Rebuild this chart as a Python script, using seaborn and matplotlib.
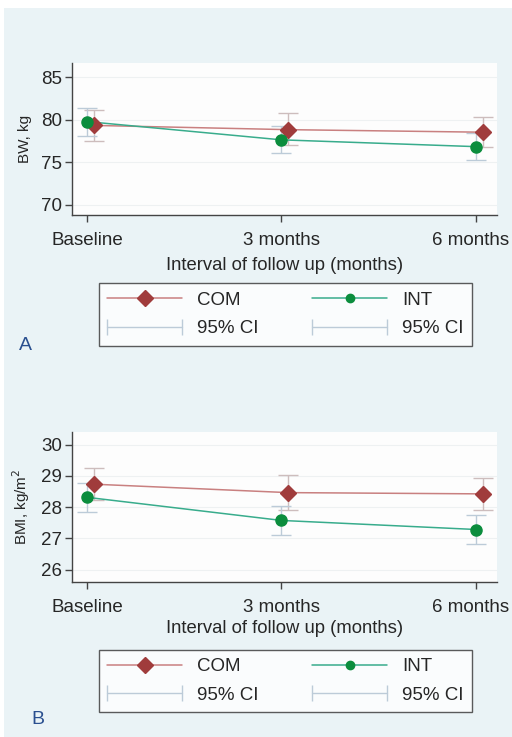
import numpy as np
import pandas as pd
import matplotlib
matplotlib.use('Agg')
import matplotlib.pyplot as plt
import matplotlib.transforms as mtransforms
import seaborn as sns
from matplotlib.lines import Line2D
from matplotlib.legend_handler import HandlerLine2D
from matplotlib.patches import Rectangle

# data
visits = ['Baseline', '3 months', '6 months']
bw_com = [79.35, 78.85, 78.55]
bw_com_lo = [77.5, 77.0, 76.8]
bw_com_hi = [81.2, 80.8, 80.3]
bw_int = [79.8, 77.65, 76.85]
bw_int_lo = [78.15, 76.05, 75.3]
bw_int_hi = [81.4, 79.3, 78.4]

bmi_com = [28.73, 28.46, 28.42]
bmi_com_lo = [28.21, 27.92, 27.9]
bmi_com_hi = [29.25, 29.02, 28.94]
bmi_int = [28.31, 27.57, 27.28]
bmi_int_lo = [27.85, 27.1, 26.82]
bmi_int_hi = [28.77, 28.03, 27.75]

COM_LINE = '#c98080'
COM_MARK = '#a03c3c'
INT_LINE = '#38ac8c'
INT_MARK = '#0b8d3d'
COM_CI = '#cdbdbd'
INT_CI = '#bccbd8'
BG = '#eaf3f6'

sns.set_style('white')
plt.rcParams['font.family'] = ['Liberation Sans', 'DejaVu Sans']

fig = plt.figure(figsize=(5.12, 7.37), dpi=100)
fig.patch.set_facecolor('white')
fig.patches.append(Rectangle((4 / 512, 0), 1, 1 - 8 / 737, transform=fig.transFigure,
                             facecolor=BG, edgecolor='none', zorder=-10))


def panel(rect, com, com_lo, com_hi, intv, int_lo, int_hi, ylim, yticks, ylabel, xlpad):
    ax = fig.add_axes(rect)
    ax.set_facecolor('#fdfdfd')
    x = np.arange(len(visits))
    off = 0.035
    df = pd.DataFrame({'x': np.concatenate([x + off, x]),
                       'y': com + intv,
                       'group': ['COM'] * 3 + ['INT'] * 3})
    ax.errorbar(x + off, com, yerr=[np.array(com) - np.array(com_lo), np.array(com_hi) - np.array(com)],
                fmt='none', ecolor=COM_CI, elinewidth=1.0, capsize=7.5, capthick=1.0, zorder=2)
    ax.errorbar(x, intv, yerr=[np.array(intv) - np.array(int_lo), np.array(int_hi) - np.array(intv)],
                fmt='none', ecolor=INT_CI, elinewidth=1.0, capsize=7.5, capthick=1.0, zorder=2)
    sns.lineplot(data=df, x='x', y='y', hue='group', palette={'COM': COM_LINE, 'INT': INT_LINE},
                 linewidth=1.1, legend=False, ax=ax, zorder=3)
    ax.plot(x + off, com, linestyle='none', marker='D', markersize=8.5, color=COM_MARK, zorder=4)
    ax.plot(x, intv, linestyle='none', marker='o', markersize=8, color=INT_MARK, zorder=5)
    ax.set_xlim(-0.077, 2.108)
    ax.set_ylim(*ylim)
    ax.set_xticks(x)
    ax.set_xticklabels(visits, fontsize=13.5)
    ax.set_yticks(yticks)
    ax.set_yticklabels([str(t) for t in yticks], fontsize=13.5)
    ax.tick_params(axis='x', direction='out', length=5, width=1, color='#444444', pad=7,
                   bottom=True)
    ax.tick_params(axis='y', direction='out', length=5, width=1, color='#444444', pad=2,
                   left=True)
    # last label sits a little left of its tick, as in the reference
    last = ax.get_xticklabels()[-1]
    last.set_transform(last.get_transform() +
                       mtransforms.ScaledTranslation(-5 / 100, 0, fig.dpi_scale_trans))
    ax.set_xlabel('Interval of follow up (months)', fontsize=13.3, labelpad=xlpad)
    ax.set_ylabel(ylabel, fontsize=11, labelpad=6.5)
    ax.yaxis.grid(True, color='#eef1f2', linewidth=0.8)
    for s in ['top', 'right']:
        ax.spines[s].set_visible(False)
    for s in ['left', 'bottom']:
        ax.spines[s].set_color('#444444')
        ax.spines[s].set_linewidth(1.0)
    return ax


def add_legend(y0, h):
    handles = [
        Line2D([0], [0], color=COM_LINE, lw=1.1, marker='D', markersize=8,
               markerfacecolor=COM_MARK, markeredgecolor=COM_MARK),
        Line2D([0], [0], color=INT_CI, lw=1.0, marker='|', markersize=11, markeredgewidth=1.0),
        Line2D([0], [0], color=INT_LINE, lw=1.1, marker='o', markersize=6,
               markerfacecolor=INT_MARK, markeredgecolor=INT_MARK),
        Line2D([0], [0], color=INT_CI, lw=1.0, marker='|', markersize=11, markeredgewidth=1.0),
    ]
    labels = ['COM', '95% CI', 'INT', '95% CI']
    hm = {handles[1]: HandlerLine2D(numpoints=2, marker_pad=0),
          handles[3]: HandlerLine2D(numpoints=2, marker_pad=0)}
    leg = fig.legend(handles, labels, ncol=2, loc='center', mode='expand',
                     bbox_to_anchor=(99 / 512, y0, 373 / 512, h), bbox_transform=fig.transFigure,
                     fontsize=13.5, frameon=True, fancybox=False, edgecolor='#333333',
                     handlelength=4.0, handletextpad=0.8, labelspacing=0.6,
                     borderpad=0.45, borderaxespad=0, numpoints=1, handler_map=hm)
    leg.get_frame().set_linewidth(1.0)
    leg.get_frame().set_facecolor('white')
    return leg


panel([72 / 512, 1 - 215 / 737, 425 / 512, 152 / 737], bw_com, bw_com_lo, bw_com_hi,
      bw_int, bw_int_lo, bw_int_hi, (68.8, 86.7), [70, 75, 80, 85], 'BW, kg', 6)
panel([72 / 512, 1 - 582 / 737, 425 / 512, 150 / 737], bmi_com, bmi_com_lo, bmi_com_hi,
      bmi_int, bmi_int_lo, bmi_int_hi, (25.6, 30.4), [26, 27, 28, 29, 30], 'BMI, kg/m$^2$', 3)

add_legend(1 - 348 / 737, 67 / 737)
add_legend(1 - 715 / 737, 68 / 737)

fig.text(19 / 512, 1 - 345 / 737, 'A', fontsize=14, color='#2a4f8f', ha='left', va='center')
fig.text(31 / 512, 1 - 720 / 737, 'B', fontsize=14, color='#2a4f8f', ha='left', va='center')

fig.savefig('out.png', dpi=100, facecolor=fig.get_facecolor())
